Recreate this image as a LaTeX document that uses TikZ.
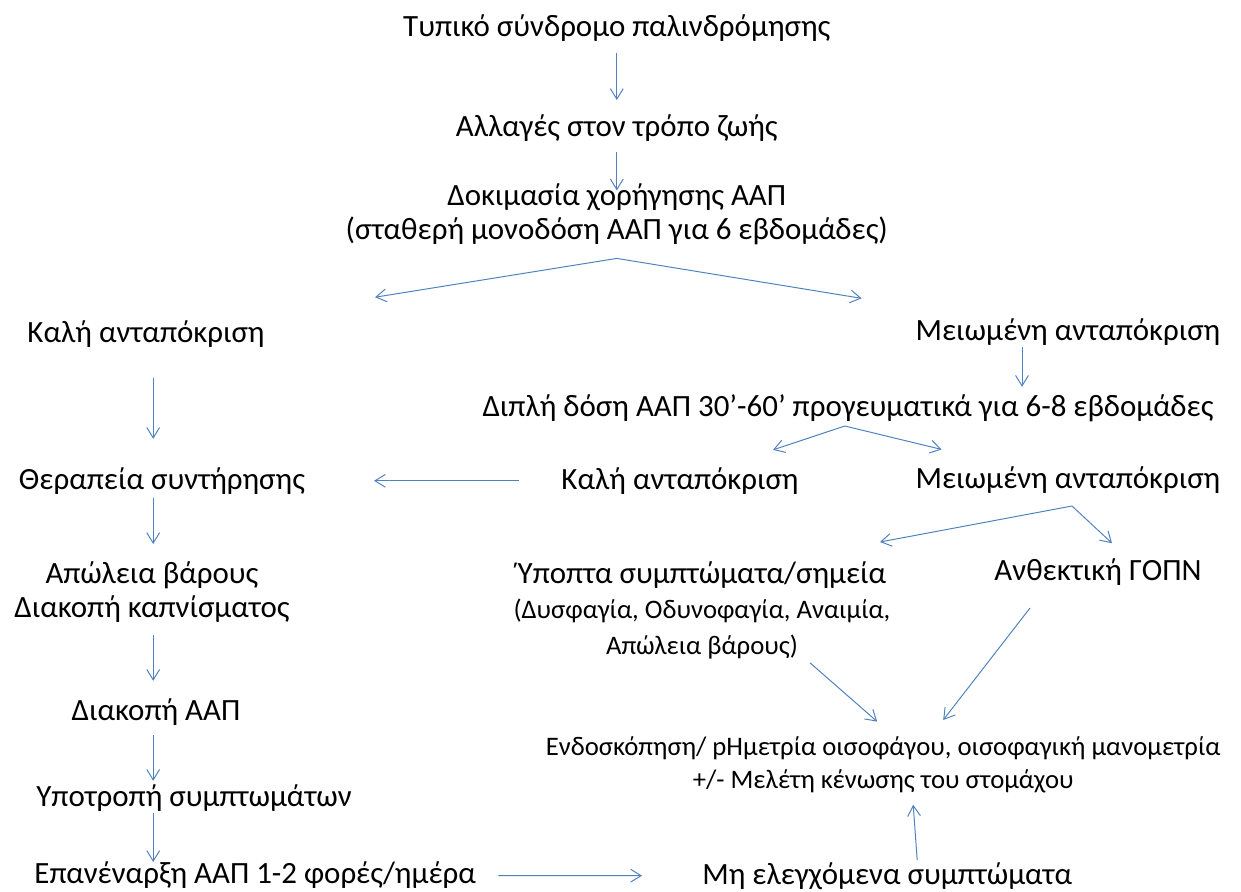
\documentclass[tikz,border=0pt]{standalone}
\usepackage{fontspec}
\setmainfont{Carlito}
\usepackage{xcolor}
\usetikzlibrary{arrows.meta}

\definecolor{linkblue}{RGB}{79,129,189}
\newcommand{\mainsize}{\fontsize{22}{24.2}\selectfont}
\newcommand{\smallsize}{\fontsize{19}{23.5}\selectfont}

\tikzset{
  txt/.style={inner sep=0pt, font=\mainsize, align=center},
  smalltxt/.style={inner sep=0pt, font=\smallsize, align=center},
  arr/.style={draw=linkblue, line width=0.7pt, -{Straight Barb[length=2.6mm,width=3.2mm]}}
}

\begin{document}
\begin{tikzpicture}[scale=1]
\useasboundingbox (0,0) rectangle (31.025,-22.275);
% text of the chart
\node[txt] (typ) at (15.42,-0.7) {Τυπικό σύνδρομο παλινδρόμησης};
\node[txt] (life) at (15.42,-3.2) {Αλλαγές στον τρόπο ζωής};
\node[txt] (trial) at (15.42,-5.36) {Δοκιμασία χορήγησης ΑΑΠ\\(σταθερή μονοδόση ΑΑΠ για 6 εβδομάδες)};
\node[txt] (good1) at (3.65,-8.35) {Καλή ανταπόκριση};
\node[txt] (red1) at (26.7,-8.3) {Μειωμένη ανταπόκριση};
\node[txt] (double) at (21.2,-10.2) {Διπλή δόση ΑΑΠ 30’-60’ προγευματικά για 6-8 εβδομάδες};
\node[txt] (maint) at (4.05,-12.02) {Θεραπεία συντήρησης};
\node[txt] (good2) at (17.0,-12.02) {Καλή ανταπόκριση};
\node[txt] (red2) at (26.7,-12.0) {Μειωμένη ανταπόκριση};
\node[txt] (weight) at (3.8,-14.8) {Απώλεια βάρους\\Διακοπή καπνίσματος};
\node[txt] (stopppi) at (3.9,-17.8) {Διακοπή ΑΑΠ};
\node[txt] (relapse) at (4.85,-19.95) {Υποτροπή συμπτωμάτων};
\node[txt] (restart) at (6.38,-21.88) {Επανέναρξη ΑΑΠ 1-2 φορές/ημέρα};
\node[txt] (unc) at (22.18,-21.9) {Μη ελεγχόμενα συμπτώματα};
\node[smalltxt] (endo) at (22.08,-19.12) {Ενδοσκόπηση/ pΗμετρία οισοφάγου, οισοφαγική μανομετρία\\+/- Μελέτη κένωσης του στομάχου};
\node[smalltxt, font=\fontsize{19}{25.6}\selectfont] (susp) at (17.55,-15.26) {{\mainsize Ύποπτα συμπτώματα/σημεία}\\(Δυσφαγία, Οδυνοφαγία, Αναιμία,\\Απώλεια βάρους)};
\node[txt] (anth) at (27.45,-14.3) {Ανθεκτική ΓΟΠΝ};

% forks and the two arrow columns
\coordinate (fork1) at ([yshift=-1.1cm]trial.center);
\coordinate (fork2) at ([shift={(-0.08,-0.45)}]double.center);
\coordinate (fork3) at ([shift={(0.1,-0.65)}]red2.center);
\coordinate (lcol) at (3.83,0);
\coordinate (rcol) at (25.55,0);

% arrows
\draw[arr, shorten <=0.62cm, shorten >=0.7cm] (typ.center) -- (life.center);
\draw[arr, shorten <=0.6cm, shorten >=0.6cm] (life.center) -- (trial.center);
\draw[arr, shorten >=5.8cm] (fork1) -- (good1.center);
\draw[arr, shorten >=5.23cm] (fork1) -- (red1.center);
\draw[arr, shorten <=1.1cm, shorten >=1.05cm] (good1.center -| lcol) -- (maint.center -| lcol);
\draw[arr, shorten <=0.38cm, shorten >=0.53cm] (red1.center -| rcol) -- (double.center -| rcol);
\draw[arr, shorten >=2.45cm] (fork2) -- (good2.center);
\draw[arr, shorten >=3.25cm] (fork2) -- (red2.center);
\draw[arr, shorten <=4.03cm, shorten >=5.3cm] (good2.center) -- (maint.center);
\draw[arr, shorten <=0.43cm, shorten >=1.2cm] (maint.center -| lcol) -- (weight.center -| lcol);
\draw[arr, shorten <=1.08cm, shorten >=0.78cm] (weight.center -| lcol) -- (stopppi.center -| lcol);
\draw[arr, shorten <=0.58cm, shorten >=0.43cm] (stopppi.center -| lcol) -- (relapse.center -| lcol);
\draw[arr, shorten <=0.38cm, shorten >=0.33cm] (relapse.center -| lcol) -- (restart.center -| lcol);
\draw[arr, shorten <=6.08cm, shorten >=6.13cm] (restart.center) -- (unc.center);
\draw[arr] (fork3) -- ([shift={(4.45,1.71)}]susp.center);
\draw[arr] (fork3) -- ([shift={(0.35,0.72)}]anth.center);
\draw[arr] ([shift={(2.7,-1.31)}]susp.center) -- ([shift={(-0.15,1.08)}]endo.center);
\draw[arr] ([shift={(-1.7,-0.9)}]anth.center) -- ([shift={(1.5,1.12)}]endo.center);
\draw[arr] ([shift={(0.75,0.4)}]unc.center) -- ([shift={(0.75,-1.0)}]endo.center);
\end{tikzpicture}
\end{document}
